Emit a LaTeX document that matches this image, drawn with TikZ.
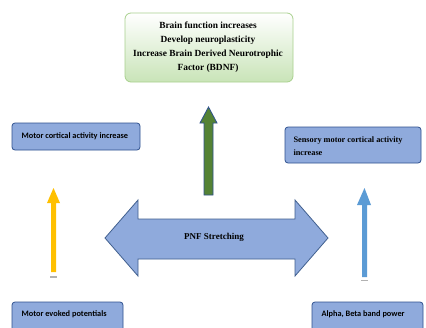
\documentclass[tikz,border=0pt]{standalone}
\usepackage{fontspec}
\setmainfont{Liberation Serif}
\newfontfamily\calib{Carlito}
\definecolor{boxblue}{HTML}{8FAADC}
\definecolor{boxedge}{HTML}{2F528F}
\definecolor{dbledge}{HTML}{41608F}
\definecolor{yarrow}{HTML}{FFC000}
\definecolor{barrow}{HTML}{5B9BD5}
\definecolor{garrow}{HTML}{548235}
\definecolor{gbox}{HTML}{C9E4B8}
\definecolor{gedge}{HTML}{A9D18E}
\begin{document}
\begin{tikzpicture}[x=1pt,y=-1pt,
  bluebox/.style={draw=boxedge,fill=boxblue,rounded corners=3pt,line width=0.8pt},
  sanstext/.style={font=\calib\bfseries\fontsize{8.3}{10}\selectfont,text=black},
  seriftext/.style={font=\bfseries\fontsize{8.3}{13}\selectfont,text=black}]
\clip (0,0) rectangle (426,327);
\fill[white] (0,0) rectangle (426,327);
% top box
\shade[top color=white,bottom color=gbox,draw=gedge,line width=0.8pt,rounded corners=6pt]
  (125,13) rectangle (293,82);
\node[font=\bfseries\fontsize{9.4}{14}\selectfont,align=center] (top) at (208,47)
  {Brain function increases\\Develop neuroplasticity\\Increase Brain Derived Neurotrophic\\Factor (BDNF)};
% left box
\draw[bluebox] (12,123) rectangle (140,150);
\node[sanstext,anchor=west] (mcai) at (18,136) {Motor cortical activity increase};
% right box
\draw[bluebox] (285,127) rectangle (421,163);
\node[seriftext,anchor=west,align=left] (smcai) at (290,146.5) {Sensory motor cortical activity\\increase};
% bottom boxes
\draw[bluebox] (12,302) rectangle (123,340);
\node[sanstext,anchor=west] (mep) at (18,314) {Motor evoked potentials};
\draw[bluebox] (312,302) rectangle (423,340);
\node[sanstext,anchor=west] (abp) at (318,314) {Alpha, Beta band power};
% double arrow
\draw[draw=dbledge,fill=boxblue,line width=0.8pt,line join=miter]
  (105,238) -- (138,200) -- (138,219) -- (295,219) -- (295,200) -- (328,238)
  -- (295,276) -- (295,259) -- (138,259) -- (138,276) -- cycle;
\node[font=\bfseries\fontsize{9}{11}\selectfont] (pnf) at (214,237) {PNF Stretching};
% green arrow
\draw[draw=boxedge,fill=garrow,line width=0.8pt]
  (208.5,107) -- (217,123) -- (213,123) -- (213,195) -- (204,195) -- (204,123) -- (200,123) -- cycle;
% yellow arrow
\fill[yarrow] (53.5,188) -- (60,203) -- (56,203) -- (56,272) -- (51,272) -- (51,203) -- (47,203) -- cycle;
\fill[gray!60] (50,276) rectangle (57,278);
% blue arrow
\fill[barrow] (364.5,188) -- (371,205) -- (367,205) -- (367,277) -- (362,277) -- (362,205) -- (357,205) -- cycle;
\fill[gray!60] (361,280) rectangle (368,281);
\end{tikzpicture}
\end{document}
